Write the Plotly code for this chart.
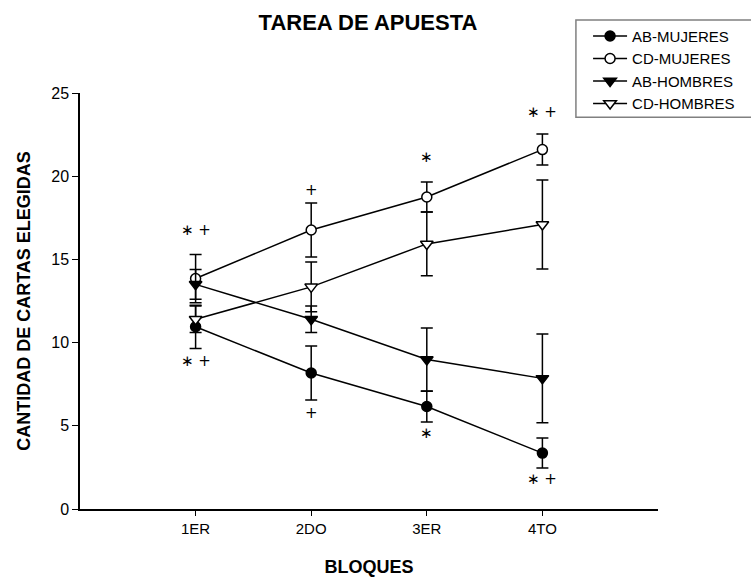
import plotly.graph_objects as go

# Blocks on the x axis (positions 1..4 on a 0..5 axis)
bloques = ["1ER", "2DO", "3ER", "4TO"]
x_pos = [1, 2, 3, 4]

# Mean number of cards chosen per block, with error bar half-widths
ab_mujeres = [10.95, 8.17, 6.16, 3.36]
ab_mujeres_err = [1.30, 1.62, 0.93, 0.90]

cd_mujeres = [13.85, 16.77, 18.75, 21.60]
cd_mujeres_err = [1.45, 1.62, 0.90, 0.93]

ab_hombres = [13.50, 11.40, 8.98, 7.85]
ab_hombres_err = [0.90, 0.80, 1.90, 2.67]

cd_hombres = [11.40, 13.35, 15.93, 17.10]
cd_hombres_err = [0.80, 1.50, 1.92, 2.67]

# Significance marks above / below each block
marks_above = ["\u2217 +", "+", "\u2217", "\u2217 +"]
marks_below = ["\u2217 +", "+", "\u2217", "\u2217 +"]
marks_above_y = [16.77, 19.17, 21.15, 23.86]
marks_below_y = [8.89, 5.77, 4.57, 1.80]

FONT = "Liberation Sans, Arial, sans-serif"
MARK_FONT = "DejaVu Sans, sans-serif"
BLACK = "#000000"

series = [
    ("AB-MUJERES", ab_mujeres, ab_mujeres_err, "circle", BLACK, 10),
    ("CD-MUJERES", cd_mujeres, cd_mujeres_err, "circle", "white", 10),
    ("AB-HOMBRES", ab_hombres, ab_hombres_err, "triangle-down", BLACK, 11),
    ("CD-HOMBRES", cd_hombres, cd_hombres_err, "triangle-down", "white", 11),
]

fig = go.Figure()
for name, vals, errs, symbol, fill, size in series:
    fig.add_trace(go.Scatter(
        x=x_pos, y=vals, name=name, mode="lines+markers",
        line=dict(color=BLACK, width=1.5),
        marker=dict(symbol=symbol, size=size, color=fill,
                    line=dict(color=BLACK, width=1.5)),
        error_y=dict(type="data", array=errs, visible=True,
                     color=BLACK, thickness=1.5, width=6),
    ))

annotations = []
for xp, txt, yv in zip(x_pos, marks_above, marks_above_y):
    annotations.append(dict(x=xp, y=yv, xref="x", yref="y", text=txt,
                            showarrow=False, yanchor="middle",
                            font=dict(family=MARK_FONT, size=15, color=BLACK)))
for xp, txt, yv in zip(x_pos, marks_below, marks_below_y):
    annotations.append(dict(x=xp, y=yv, xref="x", yref="y", text=txt,
                            showarrow=False, yanchor="middle",
                            font=dict(family=MARK_FONT, size=15, color=BLACK)))

fig.update_layout(
    width=751, height=578,
    margin=dict(l=80, r=93, t=93, b=69, autoexpand=False),
    paper_bgcolor="white", plot_bgcolor="white",
    font=dict(family=FONT, color=BLACK, size=15),
    title=dict(text="<b>TAREA DE APUESTA</b>", x=368 / 751, xanchor="center",
               y=1 - 22 / 578, yanchor="middle",
               font=dict(family=FONT, size=22, color=BLACK)),
    xaxis=dict(range=[0, 5], tickvals=x_pos, ticktext=bloques,
               showgrid=False, zeroline=False, showline=True,
               linecolor=BLACK, linewidth=1.5, ticks="outside", ticklen=5,
               tickwidth=1.2, tickcolor=BLACK,
               tickfont=dict(family=FONT, size=15, color=BLACK),
               title=dict(text="<b>BLOQUES</b>", standoff=25,
                          font=dict(family=FONT, size=18, color=BLACK))),
    yaxis=dict(range=[0, 25], tickvals=[0, 5, 10, 15, 20, 25],
               showgrid=False, zeroline=False, showline=True,
               linecolor=BLACK, linewidth=1.5, ticks="outside", ticklen=6,
               tickwidth=1.2, tickcolor=BLACK,
               tickfont=dict(family=FONT, size=16, color=BLACK),
               title=dict(text="<b>CANTIDAD DE CARTAS ELEGIDAS</b>", standoff=16,
                          font=dict(family=FONT, size=18, color=BLACK))),
    showlegend=True,
    legend=dict(x=0.879, y=1.176, xanchor="left", yanchor="top",
                bgcolor="rgba(0,0,0,0)", borderwidth=0,
                font=dict(family=FONT, size=15, color=BLACK),
                tracegroupgap=0, itemsizing="trace", itemwidth=34),
    shapes=[dict(type="rect", xref="paper", yref="paper",
                 x0=0.858, x1=1.4, y0=0.942, y1=1.1755,
                 line=dict(color="#808080", width=1.5),
                 fillcolor="rgba(0,0,0,0)", layer="below")],
    annotations=annotations,
)

fig.write_html("out.html")
